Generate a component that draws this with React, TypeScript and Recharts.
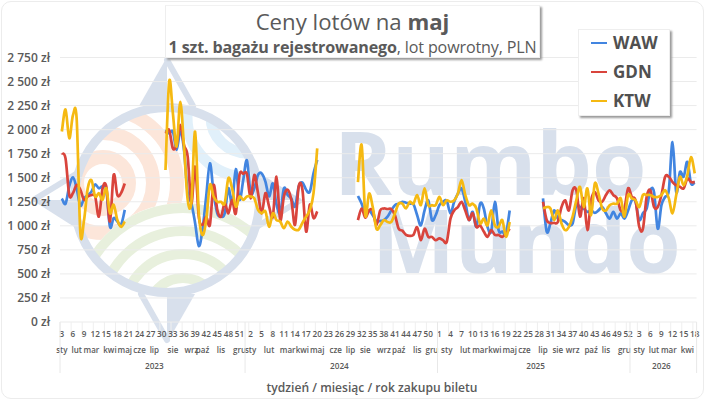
import React from "react";
import { LineChart, Line, XAxis, YAxis, CartesianGrid, Legend } from "recharts";

const wawA = [1285,1230,1410,1505,1390,1210,1285,1320,1355,1430,1390,1410,1375,990,1080,1045,1010,1165];
const gdnA = [1755,1700,1320,1340,1425,1375,1270,1305,1320,1305,1095,1390,1410,1045,1530,1320,1340,1440];
const ktwA = [1980,2210,1910,2150,2115,925,1060,1390,1475,1305,1340,1270,1390,1130,1220,1060,990,1045];

const wawB = [1995,1960,1980,1790,1980,1790,1340,1235,1030,790,960,1305,1650,1340,1130,1095,1130,1390,1235,1590,1270,1475,1680,1340,1390,1530,1545,1460,1305,1440,1220,1130,1390,1320,1285,1200,1410,1450,1375,1355,1545,1685];
const gdnB = [1960,1995,1805,1840,2050,1840,1720,1235,1615,1095,1010,1095,1010,1425,1165,1095,1235,1130,1270,1130,1530,1540,1540,1285,1530,1340,1130,1340,1200,1095,1510,1060,1305,1375,1270,1010,1410,1375,940,1220,1080,1150];
const ktwB = [1580,2500,2170,1825,2290,1825,1270,1250,1980,1130,905,1060,1425,1305,1250,1250,1235,1495,1390,1200,1305,1270,1305,1305,1285,1165,1130,1150,990,1130,1060,1045,975,1045,990,960,960,1030,1095,1165,1340,1805];

const wawC = [1310,1230,1130,1160,1110,1050,1050,1060,1095,1160,1215,1230,1250,1240,1230,1225,1110,1005,1160,1265,1060,1110,1215,1250,1260,1130,1250,1335,1390,1250,1060,1145,990,1230,1180,990,940,1250,955,940,920,1160];
const gdnC = [1060,1180,1085,1160,1160,1005,1160,1180,1175,1175,1110,970,950,905,895,905,985,850,970,885,885,850,870,850,835,1075,1160,1195,1250,1160,1060,1130,990,1005,940,885,955,905,905,885,920,970];
const ktwC = [1455,1840,1110,1335,1195,970,1005,1060,1040,1040,1130,1230,1230,1180,1250,1230,1320,1215,1390,1215,1215,1215,1300,1215,1265,1250,1265,1335,1475,1320,1215,1230,1180,1025,1075,1005,1160,1005,990,1060,885,1040];

const wawD = [1285,940,1025,1160,1075,1060,1040,1005,1025,1215,1195,1180,1145,1160,1135,1160,1195,1130,1075,1145,1075,1130,1075,1160,1265,1250,1060,1130,1180,1370,1350,970,1215,1300,1370,1870,1350,1560,1510,1665,1440,1455];
const gdnD = [1250,1060,1030,1030,1040,1195,1265,1160,1370,1370,1095,1285,955,1265,1350,1265,1250,1320,1370,1320,1285,1160,1180,1390,1300,1265,990,970,1300,1370,1195,1195,1320,1510,1510,1455,1420,1405,1390,1490,1455,1455];
const ktwD = [1180,1195,1180,1060,1160,1025,955,990,1095,1265,1405,1195,1390,1110,1440,1335,1180,1160,1215,1230,1230,1285,1095,1320,1285,1265,1195,1320,1320,1320,1300,1300,1320,1370,1285,1130,1320,1510,1420,1525,1715,1545];

const segmentStarts = [0, 28, 80, 130];
const categoryCount = 172;

const weekLabels = [3,6,9,12,15,18,21,24,27,30,33,36,39,42,45,48,51,2,5,8,11,14,17,20,23,26,29,32,35,38,41,44,47,50,1,4,7,10,13,16,19,22,25,28,31,34,37,40,43,46,49,52,3,6,9,12,15,18];
const monthLabels = ["sty","lut","mar","kwi","maj","cze","lip","sie","wrz","paź","lis","gru","sty","lut","mar","kwi","maj","cze","lip","sie","wrz","paź","lis","gru","sty","lut","mar","kwi","maj","cze","lip","sie","wrz","paź","lis","gru","sty","lut","mar","kwi"];
const monthCategory = [0,4,8,13,17,21,25,30,35,38,43,48,51,56,61,65,69,74,78,82,87,91,96,100,104,109,113,117,121,125,130,134,138,143,147,152,156,160,164,169];
const yearLabels = ["2023","2024","2025","2026"];
const yearCategory = [25,75,128,162];
const yearEdges = [0,50,102,154];
const yTicks = [0,250,500,750,1000,1250,1500,1750,2000,2250,2500,2750];
const seriesNames = ["WAW","GDN","KTW"];
const seriesColors = ["#4285e0","#d9443c","#f5b912"];

const pick = (segs: number[][], i: number) => {
  for (let s = 0; s < segs.length; s++) {
    const k = i - segmentStarts[s];
    if (k >= 0 && k < segs[s].length) return segs[s][k];
  }
  return null;
};
const rows = Array.from({ length: categoryCount }, (_, i) => ({
  idx: i,
  WAW: pick([wawA, wawB, wawC, wawD], i),
  GDN: pick([gdnA, gdnB, gdnC, gdnD], i),
  KTW: pick([ktwA, ktwB, ktwC, ktwD], i),
}));

const FONT = "'Open Sans', sans-serif";
const LABEL = "#5a5a5a";
const MARK = "#d8e0ec";
const BAND_PAD = { left: 1.85, right: 1.85 };

// Smooth spline through the points, as the spreadsheet's "smooth line" draws it.
function smoothCurve(ctx: any) {
  let pts: [number, number][] = [];
  return {
    areaStart() {},
    areaEnd() {},
    lineStart() { pts = []; },
    point(x: number, y: number) { pts.push([+x, +y]); },
    lineEnd() {
      if (!pts.length) return;
      ctx.moveTo(pts[0][0], pts[0][1]);
      for (let i = 0; i < pts.length - 1; i++) {
        const p0 = pts[Math.max(0, i - 1)];
        const p1 = pts[i];
        const p2 = pts[i + 1];
        const p3 = pts[Math.min(pts.length - 1, i + 2)];
        ctx.bezierCurveTo(
          p1[0] + (p2[0] - p0[0]) / 6, p1[1] + (p2[1] - p0[1]) / 6,
          p2[0] - (p3[0] - p1[0]) / 6, p2[1] - (p3[1] - p1[1]) / 6,
          p2[0], p2[1]
        );
      }
    },
  };
}

const Watermark = () => (
  <svg width={705} height={400} style={{ position: "absolute", left: 0, top: 0 }}>
    <defs>
      <clipPath id="inner"><circle cx={167} cy={200} r={89} /></clipPath>
    </defs>
    <g clipPath="url(#inner)" fill="none">
      <g stroke="#fce6da" strokeWidth={14}>
        <circle cx={103} cy={183} r={26} />
        <circle cx={103} cy={183} r={50} />
        <circle cx={103} cy={183} r={74} />
      </g>
      <g stroke="#e1f0fa" strokeWidth={11}>
        <circle cx={247} cy={117} r={36} />
        <circle cx={247} cy={117} r={60} />
      </g>
      <circle cx={183} cy={313} r={110} fill="#fff" />
      <g stroke="#e8f0dd" strokeWidth={10}>
        <circle cx={183} cy={313} r={105} />
        <circle cx={183} cy={313} r={82} />
        <circle cx={183} cy={313} r={59} />
        <circle cx={183} cy={313} r={35} />
      </g>
    </g>
    <circle cx={167} cy={200} r={92.5} fill="none" stroke={MARK} strokeWidth={9} />
    <g fill={MARK}>
      <polygon points="167,57 139,106 167,106" />
      <polygon points="302,200 258,172 258,200" />
      <polygon points="167,343 195,294 167,294" />
      <polygon points="32,200 76,228 76,200" />
    </g>
    <g stroke={MARK} strokeWidth={6} fill="none" strokeLinecap="round">
      <line x1={167} y1={60} x2={193} y2={106} />
      <line x1={299} y1={201} x2={258} y2={226} />
      <line x1={167} y1={340} x2={141} y2={294} />
      <line x1={35} y1={199} x2={76} y2={174} />
    </g>
    <g fontFamily={FONT} fontWeight={700} fontSize={88} fill={MARK}>
      <text x={334} y={195}>Rumbo</text>
      <text x={372} y={273}>Mundo</text>
    </g>
  </svg>
);

const WeekTick = ({ x, y, index }: any) => (
  <g>
    <line x1={x - 1.85} x2={x - 1.85} y1={y} y2={y + 15} stroke="#efefef" />
    <text x={x} y={y + 14.5} textAnchor="middle" fontFamily={FONT} fontWeight={600} fontSize={8.2} fill={LABEL}>
      {weekLabels[index]}
    </text>
  </g>
);
const MonthTick = ({ x, y, index }: any) => (
  <text x={x} y={y + 14.5} textAnchor="middle" fontFamily={FONT} fontWeight={600} fontSize={8} fill={LABEL}>
    {monthLabels[index]}
  </text>
);
const YearTick = ({ x, y, payload }: any) => {
  const yi = yearCategory.indexOf(payload.value);
  if (yi >= 0) {
    return (
      <text x={x} y={y + 14.5} textAnchor="middle" fontFamily={FONT} fontWeight={600} fontSize={8.2} fill={LABEL}>
        {yearLabels[yi]}
      </text>
    );
  }
  const dx = payload.value === categoryCount - 1 ? 1.85 : -1.85;
  return <line x1={x + dx} x2={x + dx} y1={y - 32} y2={y + 19} stroke="#e8e8e8" />;
};

const LegendBox = () => (
  <div style={{ width: 92, height: 87, background: "#fff", border: "1px solid #eee", boxShadow: "2px 2px 2px #9a9a9a", boxSizing: "border-box", position: "relative" }}>
    {seriesNames.map((name, i) => (
      <div key={name} style={{ position: "absolute", left: 12, top: 0 + i * 29, height: 26, display: "flex", alignItems: "center" }}>
        <span style={{ display: "inline-block", width: 16, height: 2.5, background: seriesColors[i], marginRight: 6 }} />
        <span style={{ fontFamily: FONT, fontWeight: 700, fontSize: 17, color: "#505050", lineHeight: "26px" }}>{name}</span>
      </div>
    ))}
  </div>
);

export default function App() {
  return (
    <div style={{ position: "absolute", left: 0, top: 0, width: 705, height: 400, background: "#fff", overflow: "hidden" }}>
      <div style={{ position: "absolute", left: 1, top: 1, width: 701, height: 396, border: "1px solid #ececec", borderRadius: 10 }} />
      <Watermark />
      <div style={{ position: "absolute", left: 0, top: 0 }}>
        <LineChart width={705} height={400} data={rows} margin={{ top: 57.5, right: 8.4, bottom: 30, left: 0 }}>
          <CartesianGrid vertical={false} stroke="#ebebeb" />
          <XAxis dataKey="idx" xAxisId="a" height={16} padding={BAND_PAD} ticks={weekLabels.map((_, i) => i * 3)} interval={0} tick={WeekTick} tickLine={false} axisLine={false} tickSize={0} tickMargin={0} />
          <XAxis dataKey="idx" xAxisId="b" height={16} padding={BAND_PAD} ticks={monthCategory} interval={0} tick={MonthTick} tickLine={false} axisLine={false} tickSize={0} tickMargin={0} />
          <XAxis dataKey="idx" xAxisId="c" height={16} padding={BAND_PAD} ticks={[...yearEdges, ...yearCategory, categoryCount - 1].sort((a, b) => a - b)} interval={0} tick={YearTick} tickLine={false} axisLine={false} tickSize={0} tickMargin={0} />
          <YAxis width={60} domain={[0, 2750]} ticks={yTicks} interval={0} tickLine={false} axisLine={false} tickSize={0} tickMargin={10}
            tick={{ fontFamily: FONT, fontWeight: 600, fontSize: 12, fill: LABEL }}
            tickFormatter={(v: number) => `${v >= 1000 ? Math.floor(v / 1000) + " " + String(v % 1000).padStart(3, "0") : v} zł`} />
          <Legend layout="vertical" align="center" verticalAlign="middle" content={LegendBox}
            wrapperStyle={{ position: "absolute", left: 578, top: 29, width: 92, height: 87, margin: 0 }} />
          {seriesNames.map((name, i) => (
            <Line key={name} xAxisId="a" dataKey={name} type={smoothCurve as any} stroke={seriesColors[i]} strokeWidth={2.7} dot={false} connectNulls={false} isAnimationActive={false} />
          ))}
        </LineChart>
      </div>
      <div style={{ position: "absolute", left: 165, top: 5, width: 375, height: 53, background: "#fff", border: "1px solid #eee", borderTop: "1px solid #f2f2f2", boxShadow: "2px 2px 2px #9a9a9a", boxSizing: "border-box", textAlign: "center", fontFamily: FONT, color: LABEL }}>
        <div style={{ fontSize: 22.2, lineHeight: "30px", marginTop: 1 }}>Ceny lotów na <b>maj</b></div>
        <div style={{ fontSize: 16.1, lineHeight: "20px", whiteSpace: "nowrap", letterSpacing: -0.15 }}><b>1 szt. bagażu rejestrowanego</b>, lot powrotny, PLN</div>
      </div>
      <div style={{ position: "absolute", left: 0, width: 744, top: 379, textAlign: "center", fontFamily: FONT, fontWeight: 600, fontSize: 12.1, color: LABEL }}>
        tydzień / miesiąc / rok zakupu biletu
      </div>
    </div>
  );
}
